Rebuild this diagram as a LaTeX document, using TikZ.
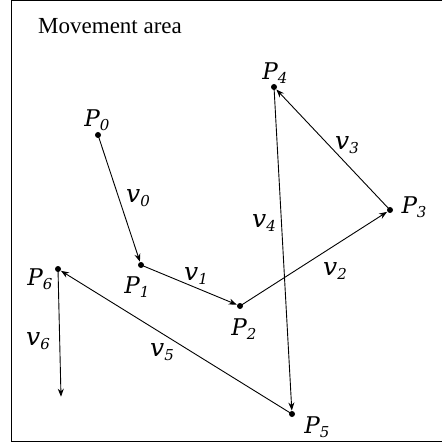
\documentclass[tikz,border=0pt]{standalone}
\usepackage{fontspec}
\setmainfont{Liberation Serif}
\newfontfamily\lblfont{DejaVu Serif}
\usetikzlibrary{arrows.meta}
\newcommand{\Plbl}[1]{{\lblfont\itshape\fontsize{23}{25}\selectfont P\raisebox{-0.35ex}{\fontsize{15}{15}\selectfont #1}}}
\newcommand{\Vlbl}[1]{{\lblfont\itshape\fontsize{25}{27}\selectfont v\raisebox{-0.3ex}{\fontsize{15}{15}\selectfont #1}}}
\begin{document}
\begin{tikzpicture}[x=1pt,y=-1pt,
  pt/.style={circle,fill=black,inner sep=0pt,minimum size=6pt},
  vec/.style={line width=0.9pt,-{Stealth[length=8pt,width=6pt]},shorten >=0.3pt},
  lbl/.style={inner sep=0pt}]
\useasboundingbox (0,0) rectangle (442,443);
\draw[line width=1pt] (442,1) -- (11,1) -- (11,441.5) -- (442,441.5);
\node[lbl,anchor=west] (title) at (38,26) {\fontsize{23}{26}\selectfont Movement area};
\node[pt] (p0) at (98,135) {};
\node[pt] (p1) at (141,265) {};
\node[pt] (p2) at (240,306) {};
\node[pt] (p3) at (390,210) {};
\node[pt] (p4) at (274,87) {};
\node[pt] (p5) at (292,414) {};
\node[pt] (p6) at (58,269) {};
\coordinate (e6) at (61,397);
\draw[vec] (p0.center) -- (p1);
\draw[vec] (p1.center) -- (p2);
\draw[vec] (p2.center) -- (p3);
\draw[vec] (p3.center) -- (p4);
\draw[vec] (p4.center) -- (p5);
\draw[vec] (p5.center) -- (p6);
\draw[vec] (p6.center) -- (e6);
\node[lbl] (lp0) at (97,120) {\Plbl{0}};
\node[lbl] (lp1) at (137,287) {\Plbl{1}};
\node[lbl] (lp2) at (244,329) {\Plbl{2}};
\node[lbl] (lp3) at (414,207) {\Plbl{3}};
\node[lbl] (lp4) at (275,73) {\Plbl{4}};
\node[lbl] (lp5) at (317,427) {\Plbl{5}};
\node[lbl] (lp6) at (40,279) {\Plbl{6}};
\node[lbl] (lv0) at (138,198) {\Vlbl{0}};
\node[lbl] (lv1) at (196,276) {\Vlbl{1}};
\node[lbl] (lv2) at (335,271) {\Vlbl{2}};
\node[lbl] (lv3) at (347,145) {\Vlbl{3}};
\node[lbl] (lv4) at (264,223) {\Vlbl{4}};
\node[lbl] (lv5) at (162,352) {\Vlbl{5}};
\node[lbl] (lv6) at (38,341) {\Vlbl{6}};
\end{tikzpicture}
\end{document}
